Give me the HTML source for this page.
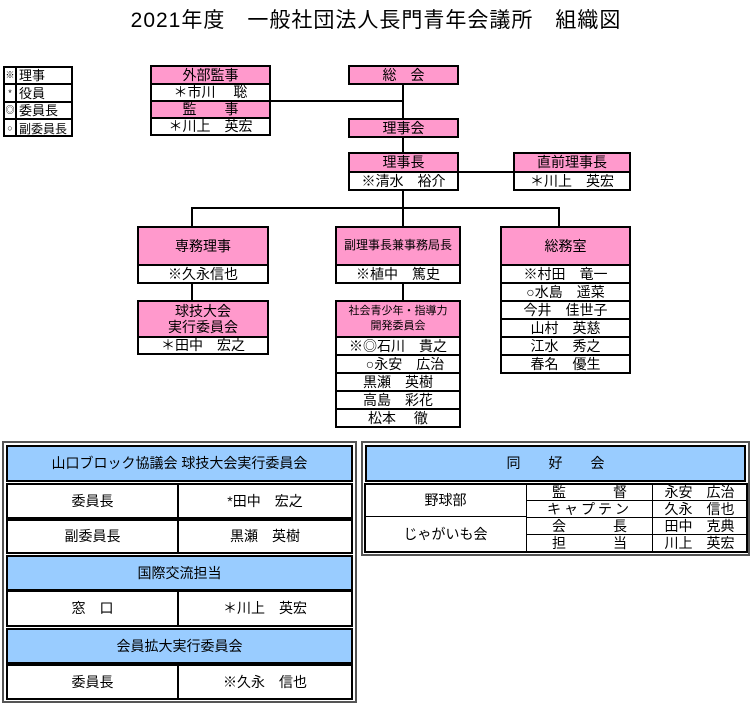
<!DOCTYPE html>
<html><head><meta charset="utf-8"><style>
body{margin:0;width:752px;height:724px;background:#fff;position:relative;overflow:hidden;font-family:"Liberation Sans","Noto Sans CJK JP",sans-serif;color:#000}
.b{position:absolute;box-sizing:border-box;border:2px solid #000;display:flex;align-items:center;justify-content:center;text-align:center;font-size:14px;line-height:1.15;white-space:pre}
.p{background:#ff99cc}.w{background:#fff}.u{background:#99ccff;font-size:14px}
.l{position:absolute;background:#000}
.t{position:absolute;box-sizing:border-box;border:1px solid #000;display:flex;align-items:center;justify-content:center;font-size:14px}
</style></head><body>
<div style="position:absolute;left:0;top:4px;width:752px;text-align:center;font-size:21px;letter-spacing:1px">2021年度　一般社団法人長門青年会議所　組織図</div>

<!-- legend -->
<div style="position:absolute;left:3px;top:66px;width:70px;height:71px;border:2px solid #000;box-sizing:border-box"></div>
<div class="l" style="left:15px;top:66px;width:2px;height:71px"></div>
<div class="l" style="left:3px;top:83px;width:70px;height:2px"></div>
<div class="l" style="left:3px;top:101px;width:70px;height:2px"></div>
<div class="l" style="left:3px;top:118px;width:70px;height:2px"></div>
<div style="position:absolute;left:5px;top:67px;font-size:9px;line-height:17.5px;width:10px;text-align:center">※<br>*<br>◎<br>○</div>
<div style="position:absolute;left:19px;top:67px;font-size:13px;line-height:17.5px">理事<br>役員<br>委員長<br><span style="font-size:12px">副委員長</span></div>

<!-- lines -->
<div class="l" style="left:402px;top:84px;width:2px;height:70px"></div>
<div class="l" style="left:268px;top:100px;width:136px;height:2px"></div>
<div class="l" style="left:458px;top:171px;width:57px;height:2px"></div>
<div class="l" style="left:402px;top:190px;width:2px;height:19px"></div>
<div class="l" style="left:191px;top:207px;width:369px;height:2px"></div>
<div class="l" style="left:191px;top:207px;width:2px;height:20px"></div>
<div class="l" style="left:402px;top:207px;width:2px;height:20px"></div>
<div class="l" style="left:558px;top:207px;width:2px;height:20px"></div>
<div class="l" style="left:191px;top:282px;width:2px;height:19px"></div>
<div class="l" style="left:402px;top:282px;width:2px;height:19px"></div>

<!-- top boxes -->
<div class="b p" style="left:150px;top:65px;width:121px;height:20px">外部監事</div>
<div class="b w" style="left:150px;top:83px;width:121px;height:19px">＊市川　 聡</div>
<div class="b p" style="left:150px;top:100px;width:121px;height:19px">監　　事</div>
<div class="b w" style="left:150px;top:117px;width:121px;height:19px">＊川上　英宏</div>

<div class="b p" style="left:348px;top:65px;width:111px;height:20px">総　会</div>
<div class="b p" style="left:348px;top:118px;width:111px;height:20px">理事会</div>
<div class="b p" style="left:348px;top:152px;width:111px;height:21px">理事長</div>
<div class="b w" style="left:348px;top:171px;width:111px;height:20px">※清水　裕介</div>
<div class="b p" style="left:513px;top:152px;width:118px;height:21px">直前理事長</div>
<div class="b w" style="left:513px;top:171px;width:118px;height:20px">＊川上　英宏</div>

<!-- 専務 -->
<div class="b p" style="left:137px;top:226px;width:132px;height:40px">専務理事</div>
<div class="b w" style="left:137px;top:264px;width:132px;height:20px">※久永信也</div>
<div class="b p" style="left:137px;top:300px;width:132px;height:38px">球技大会
実行委員会</div>
<div class="b w" style="left:137px;top:336px;width:132px;height:19px">＊田中　宏之</div>

<!-- 副理事長 -->
<div class="b p" style="left:335px;top:226px;width:126px;height:40px;font-size:12px">副理事長兼事務局長</div>
<div class="b w" style="left:335px;top:264px;width:126px;height:20px">※植中　篤史</div>
<div class="b p" style="left:335px;top:300px;width:126px;height:38px;font-size:11px;line-height:1.4">社会青少年・指導力
開発委員会</div>
<div class="b w" style="left:335px;top:336px;width:126px;height:20px">※◎石川　貴之</div>
<div class="b w" style="left:335px;top:354px;width:126px;height:20px">　○永安　広治</div>
<div class="b w" style="left:335px;top:372px;width:126px;height:20px">黒瀬　英樹</div>
<div class="b w" style="left:335px;top:390px;width:126px;height:20px">高島　彩花</div>
<div class="b w" style="left:335px;top:408px;width:126px;height:20px">松本　 徹</div>

<!-- 総務室 -->
<div class="b p" style="left:500px;top:226px;width:131px;height:40px">総務室</div>
<div class="b w" style="left:500px;top:264px;width:131px;height:20px">※村田　竜一</div>
<div class="b w" style="left:500px;top:282px;width:131px;height:20px">○水島　遥菜</div>
<div class="b w" style="left:500px;top:300px;width:131px;height:20px">今井　佳世子</div>
<div class="b w" style="left:500px;top:318px;width:131px;height:20px">山村　英慈</div>
<div class="b w" style="left:500px;top:336px;width:131px;height:20px">江水　秀之</div>
<div class="b w" style="left:500px;top:354px;width:131px;height:20px">春名　優生</div>

<!-- bottom left -->
<div style="position:absolute;left:2px;top:441px;width:355px;height:262px;border:2px solid #555;box-sizing:border-box"></div>
<div class="b u" style="left:6px;top:445px;width:347px;height:37px">山口ブロック協議会 球技大会実行委員会</div>
<div class="b w" style="left:6px;top:483px;width:173px;height:36px">委員長</div>
<div class="b w" style="left:177px;top:483px;width:176px;height:36px">*田中　宏之</div>
<div class="b w" style="left:6px;top:519px;width:173px;height:35px">副委員長</div>
<div class="b w" style="left:177px;top:519px;width:176px;height:35px">黒瀬　英樹</div>
<div class="b u" style="left:6px;top:555px;width:347px;height:36px">国際交流担当</div>
<div class="b w" style="left:6px;top:590px;width:173px;height:37px">窓　口</div>
<div class="b w" style="left:177px;top:590px;width:176px;height:37px">＊川上　英宏</div>
<div class="b u" style="left:6px;top:628px;width:347px;height:36px">会員拡大実行委員会</div>
<div class="b w" style="left:6px;top:664px;width:173px;height:36px">委員長</div>
<div class="b w" style="left:177px;top:664px;width:176px;height:36px">※久永　信也</div>

<!-- bottom right -->
<div style="position:absolute;left:361px;top:441px;width:389px;height:115px;border:2px solid #555;box-sizing:border-box"></div>
<div class="b u" style="left:365px;top:445px;width:381px;height:37px">同　　好　　会</div>
<div style="position:absolute;left:364px;top:483px;width:384px;height:70px;border:2px solid #000;box-sizing:border-box"></div>
<div class="t" style="left:365px;top:484px;width:162px;height:33px;border:none;border-bottom:1px solid #000;border-right:1px solid #000">野球部</div>
<div class="t" style="left:365px;top:517px;width:162px;height:34px;border:none;border-right:1px solid #000">じゃがいも会</div>
<div class="t" style="left:527px;top:484px;width:126px;height:17px;border-width:0 1px 1px 0;justify-content:space-between;padding:0 25px">監<span>督</span></div>
<div class="t" style="left:527px;top:501px;width:126px;height:17px;border-width:0 1px 1px 0;letter-spacing:3px">キャプテン</div>
<div class="t" style="left:527px;top:518px;width:126px;height:17px;border-width:0 1px 1px 0;justify-content:space-between;padding:0 25px">会<span>長</span></div>
<div class="t" style="left:527px;top:535px;width:126px;height:16px;border-width:0 1px 0 0;justify-content:space-between;padding:0 25px">担<span>当</span></div>
<div class="t" style="left:653px;top:484px;width:93px;height:17px;border-width:0 0 1px 0">永安　広治</div>
<div class="t" style="left:653px;top:501px;width:93px;height:17px;border-width:0 0 1px 0">久永　信也</div>
<div class="t" style="left:653px;top:518px;width:93px;height:17px;border-width:0 0 1px 0">田中　克典</div>
<div class="t" style="left:653px;top:535px;width:93px;height:16px;border-width:0">川上　英宏</div>
</body></html>
